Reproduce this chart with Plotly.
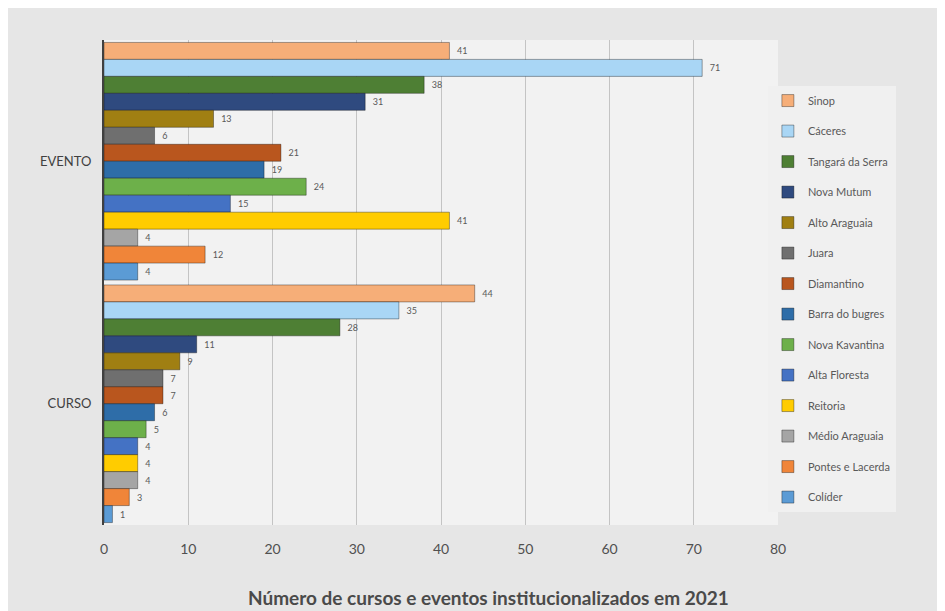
import plotly.graph_objects as go

categories = ["EVENTO", "CURSO"]
campi = ["Sinop", "Cáceres", "Tangará da Serra", "Nova Mutum", "Alto Araguaia", "Juara",
         "Diamantino", "Barra do bugres", "Nova Kavantina", "Alta Floresta", "Reitoria",
         "Médio Araguaia", "Pontes e Lacerda", "Colíder"]
evento = [41, 71, 38, 31, 13, 6, 21, 19, 24, 15, 41, 4, 12, 4]
curso = [44, 35, 28, 11, 9, 7, 7, 6, 5, 4, 4, 4, 3, 1]
colors = ["#F6AE78", "#A9D6F5", "#4E7F34", "#2F4A7F", "#A07F12", "#6F6F6F", "#B9561E",
          "#2E6DA8", "#6DB04A", "#4472C4", "#FFCC00", "#A5A5A5", "#F08539", "#5B9BD5"]
x_ticks = [0, 10, 20, 30, 40, 50, 60, 70, 80]
x_title = "Número de cursos e eventos institucionalizados em 2021"

font_family = "Lato, 'Open Sans', sans-serif"

fig = go.Figure()
for i, name in enumerate(campi):
    fig.add_trace(go.Bar(
        y=categories, x=[evento[i], curso[i]], name=name, orientation="h",
        marker=dict(color=colors[i], line=dict(color="rgba(0,0,0,0.35)", width=1)),
        text=[f"  {evento[i]}", f"  {curso[i]}"], textposition="outside", cliponaxis=False,
        textfont=dict(size=9, color="#595959", family=font_family),
        legendgroup=name,
    ))

fig.update_layout(
    width=945, height=611,
    barmode="group", bargap=0.02, bargroupgap=0,
    paper_bgcolor="#e6e6e6", plot_bgcolor="#f2f2f2",
    margin=dict(l=96, r=175, t=32, b=94, autoexpand=False),
    font=dict(family=font_family, color="#595959"),
    xaxis=dict(range=[0, 80], tickvals=x_ticks, showgrid=True, gridcolor="#c4c4c4",
               gridwidth=1, zeroline=False, ticks="", ticklabelstandoff=14,
               tickfont=dict(size=14, color="#505050"),
               showline=False, automargin=False),
    yaxis=dict(autorange="reversed", showline=True, linecolor="#404040", linewidth=2,
               ticks="", tickfont=dict(size=13, color="#404040"), showgrid=False,
               ticklabelstandoff=8, automargin=False),
    legend=dict(x=0.985, xanchor="left", y=0.905, yanchor="top", bgcolor="#f0f0f0",
                font=dict(size=11, color="#595959"), traceorder="grouped",
                tracegroupgap=11.5, itemwidth=30),
    showlegend=True,
)
fig.add_annotation(text=x_title, xref="paper", yref="paper", x=0.571, y=-0.1505,
                   xanchor="center", yanchor="middle", showarrow=False,
                   font=dict(size=19, color="#4a4a4a", weight="bold", family=font_family))

fig.write_html("out.html")
